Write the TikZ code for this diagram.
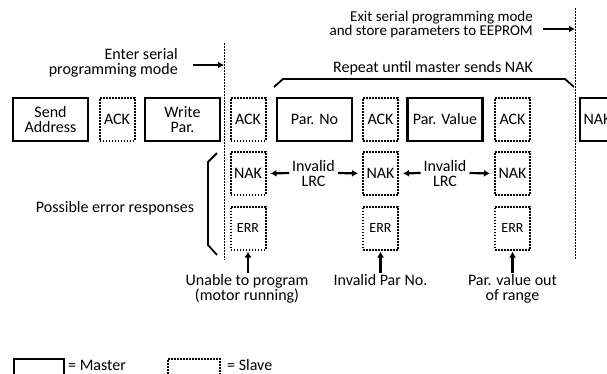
\documentclass[tikz,border=0pt]{standalone}
\usepackage{fontspec}
\setmainfont{Carlito}
\usetikzlibrary{arrows.meta}
\tikzset{
  master/.style={draw, line width=2.4pt, minimum width=75pt, minimum height=43pt, inner sep=1pt, align=center},
  slave/.style={draw, line width=2pt, dash pattern=on 1.6pt off 1.4pt, minimum width=35pt, minimum height=43pt, inner sep=1pt},
  divider/.style={line width=0.9pt, dash pattern=on 1.5pt off 1.5pt},
  bracket/.style={line width=1.8pt},
  arr/.style={line width=2.2pt, -{Latex[length=6pt,width=7pt]}}
}
\begin{document}
\begin{tikzpicture}[x=1pt, y=-1pt, font=\fontsize{16}{15}\selectfont]
    \useasboundingbox (0,0) rectangle (607,373);
    \clip (0,0) rectangle (607,373);
    \node[master] (sendaddr) at (50.5,119.5) {Send\\Address};
    \node[slave] (ack1) at (117,119.5) {ACK};
    \node[master] (wrpar) at (182.5,119.5) {Write\\Par.};
    \node[slave] (ack2) at (248,119.5) {ACK};
    \node[master] (parno) at (314.5,119.5) {Par. No};
    \node[slave] (ack3) at (380.5,119.5) {ACK};
    \node[master] (parval) at (445,119.5) {Par. Value};
    \node[slave] (ack4) at (512.5,119.5) {ACK};
    \node[master, minimum width=35pt] (nakend) at (597.5,119.5) {NAK};
    \foreach \n/\x in {1/248,2/380.5,3/512.5} {
        \node[slave] (nak\n) at (\x,173.5) {NAK};
        \node[slave, font=\fontsize{14}{15}\selectfont] (err\n) at (\x,228) {ERR};
    }
    \coordinate (entertop) at (224,43);
    \coordinate (enterbot) at (224,260);
    \coordinate (entermark) at (224,65);
    \coordinate (exittop) at (575,8);
    \coordinate (exitbot) at (575,260);
    \coordinate (exitmark) at (575,29);
    \draw[divider] (entertop) -- (enterbot);
    \draw[divider] (exittop) -- (exitbot);
    \node[anchor=east, align=right, inner sep=0pt] (enter) at (178,63) {Enter serial\\programming mode};
    \draw[arr] ([xshift=15pt]enter.east |- entermark) -- (entermark);
    \node[anchor=east, align=right, inner sep=0pt, font=\fontsize{15}{14}\selectfont] (exit) at (533,24) {Exit serial programming mode\\and store parameters to EEPROM};
    \draw[arr] ([xshift=10pt]exit.east |- exitmark) -- (exitmark);
    \node (repeat) at (433,68) {Repeat until master sends NAK};
    \draw[bracket] (274,87) -- (283,79) -- (565,79) -- (574,87);
    \draw[bracket] (217,153) -- (208,162) -- (208,245) -- (217,255);
    \node (possible) at (115,208) {Possible error responses};
    \node[align=center, inner sep=3pt] (lrc1) at (313.5,173) {Invalid\\LRC};
    \node[align=center, inner sep=3pt] (lrc2) at (445,173) {Invalid\\LRC};
    \draw[arr, shorten >=4pt] (lrc1.west) -- (nak1.east);
    \draw[arr, shorten >=4pt] (lrc1.east) -- (nak2.west);
    \draw[arr, shorten >=4pt] (lrc2.west) -- (nak2.east);
    \draw[arr, shorten >=4pt] (lrc2.east) -- (nak3.west);
    \node[anchor=north, align=center, inner sep=1pt] (unable) at (247,273) {Unable to program\\(motor running)};
    \node[anchor=north, align=center, inner sep=1pt] (badparno) at (380.5,273) {Invalid Par No.};
    \node[anchor=north, align=center, inner sep=1pt] (badvalue) at (512.5,273) {Par. value out\\of range};
    \draw[arr, shorten >=1pt] (unable.north -| err1.south) -- (err1.south);
    \draw[arr, shorten >=1pt] (badparno.north) -- (err2.south);
    \draw[arr, shorten >=1pt] (badvalue.north) -- (err3.south);
    \node[master, minimum width=50pt, minimum height=30pt, anchor=north west] (keymaster) at (13,358) {};
    \node[anchor=west, inner sep=0pt] (keymastertxt) at (68,365) {= Master};
    \node[slave, minimum width=52pt, minimum height=30pt, anchor=north west] (keyslave) at (167,358) {};
    \node[anchor=west, inner sep=0pt] (keyslavetxt) at (227,365) {= Slave};
\end{tikzpicture}
\end{document}
